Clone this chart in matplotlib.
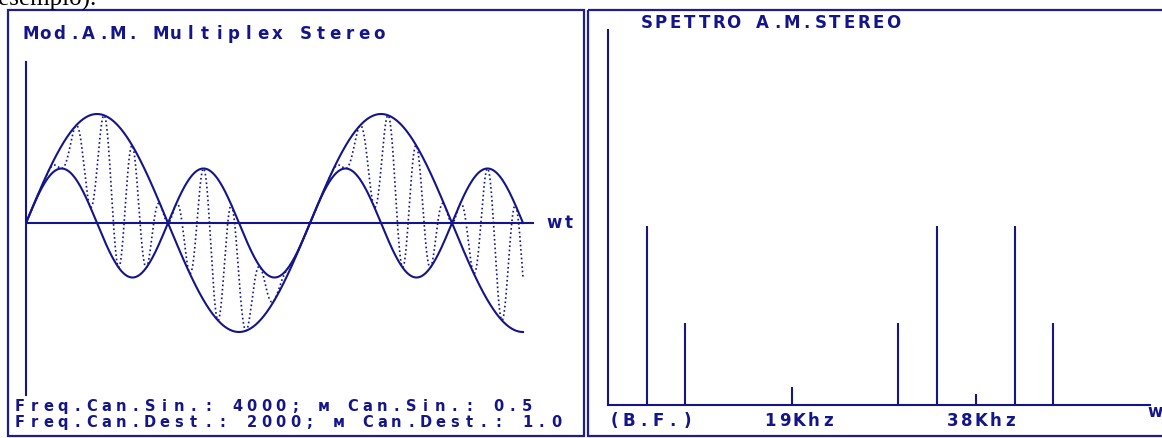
import matplotlib

matplotlib.use("Agg")

import matplotlib.pyplot as plt
from matplotlib import patches
import numpy as np

W, H = 1162, 438
NAVY = "#15158a"
EDGE = "#1e1e92"

# left panel: channel parameters printed on the chart
freq_sin = 4000
m_sin = 0.5
freq_dest = 2000
m_dest = 1.0
carrier_per_dest = 10  # carrier cycles per dest-channel cycle, counted on the trace
wt_end = 3.5 * np.pi

# right panel: spectrum lines (kHz, relative height)
spec_freq = [4, 8, 19, 30, 34, 38, 42, 46]
spec_amp = [1.0, 0.46, 0.10, 0.46, 1.0, 0.06, 1.0, 0.46]
spec_labels = ["(B.F.)", "19Khz", "38Khz"]
spec_label_khz = [0.1, 16.2, 35.0]


def px_rect(x0, y0, x1, y1):
    return [x0 / W, 1 - y1 / H, (x1 - x0) / W, (y1 - y0) / H]


def mono_text(ax, x, y, s, pitch=14.5, size=12, color=NAVY, **kw):
    # old BGI-style screen font: fixed character cells
    for i, ch in enumerate(s):
        if ch == " ":
            continue
        ax.text(x + 5.5 + i * pitch, y, ch, ha="center", va="baseline", fontsize=size,
                fontweight="bold", color=color, family="DejaVu Sans", **kw)


fig = plt.figure(figsize=(W / 100, H / 100), dpi=100, facecolor="white")

ov = fig.add_axes([0, 0, 1, 1])
ov.set_xlim(0, W)
ov.set_ylim(H, 0)
ov.axis("off")
ov.patch.set_alpha(0)

ov.text(-2, 6, "esempio).", fontsize=18, family="Liberation Serif", color="black", va="baseline", ha="left")

ov.add_patch(patches.Rectangle((8, 10), 576, 426, fill=False, edgecolor=EDGE, linewidth=1.6))
ov.add_patch(patches.Rectangle((588, 10), 600, 426, fill=False, edgecolor=EDGE, linewidth=1.6))

mono_text(ov, 25, 39, "Mod.A.M. Multiplex Stereo")
mono_text(ov, 14, 411, "Freq.Can.Sin.: %d; м Can.Sin.: %.1f" % (freq_sin, m_sin), size=10.5)
mono_text(ov, 14, 427, "Freq.Can.Dest.: %d; м Can.Dest.: %.1f" % (freq_dest, m_dest), size=10.5)
mono_text(ov, 549, 228, "wt")

mono_text(ov, 641, 28, "SPETTRO A.M.STEREO")
mono_text(ov, 1150, 417, "w")

# ---- waveform ----
period_px = 284.0
amp_px = 109.0
ax = fig.add_axes(px_rect(26, 62, 540, 395))
ax.set_xlim(0, 514 / period_px * 2 * np.pi)
ax.set_ylim(-(395 - 223) / amp_px, (223 - 62) / amp_px)
ax.patch.set_alpha(0)
for name, sp in ax.spines.items():
    sp.set_visible(name == "left")
ax.spines["left"].set_color(NAVY)
ax.spines["left"].set_linewidth(1.5)
ax.set_xticks([])
ax.set_yticks([])

wt = np.linspace(0, wt_end, 4000)
dest = m_dest * np.sin(wt)
sin_ch = m_sin * np.sin(freq_sin / freq_dest * wt)
carrier = -np.sin(carrier_per_dest * wt)
mux = (dest + sin_ch) / 2 + (dest - sin_ch) / 2 * carrier

ax.axhline(0, xmin=0, xmax=(533 - 26) / 514, color=NAVY, linewidth=1.5)
ax.plot(wt, mux, color=NAVY, linewidth=1.2, linestyle=(0, (1, 1.6)))
ax.plot(wt, dest, color=NAVY, linewidth=1.5)
ax.plot(wt, sin_ch, color=NAVY, linewidth=1.5)

# ---- spectrum ----
khz_px = 9.68
sx = fig.add_axes(px_rect(608, 30, 1150, 405))
sx.set_xlim(0, 542 / khz_px)
sx.set_ylim(0, 375 / 179)
sx.patch.set_alpha(0)
for name, sp in sx.spines.items():
    sp.set_visible(name in ("left", "bottom"))
    sp.set_color(NAVY)
    sp.set_linewidth(1.5)
sx.set_xticks([])
sx.set_yticks([])
sx.vlines(spec_freq, 0, spec_amp, color=NAVY, linewidth=1.5)

for lab, k in zip(spec_labels, spec_label_khz):
    mono_text(ov, 608 + k * khz_px, 426, lab)

fig.savefig("out.png", dpi=100, facecolor="white")
